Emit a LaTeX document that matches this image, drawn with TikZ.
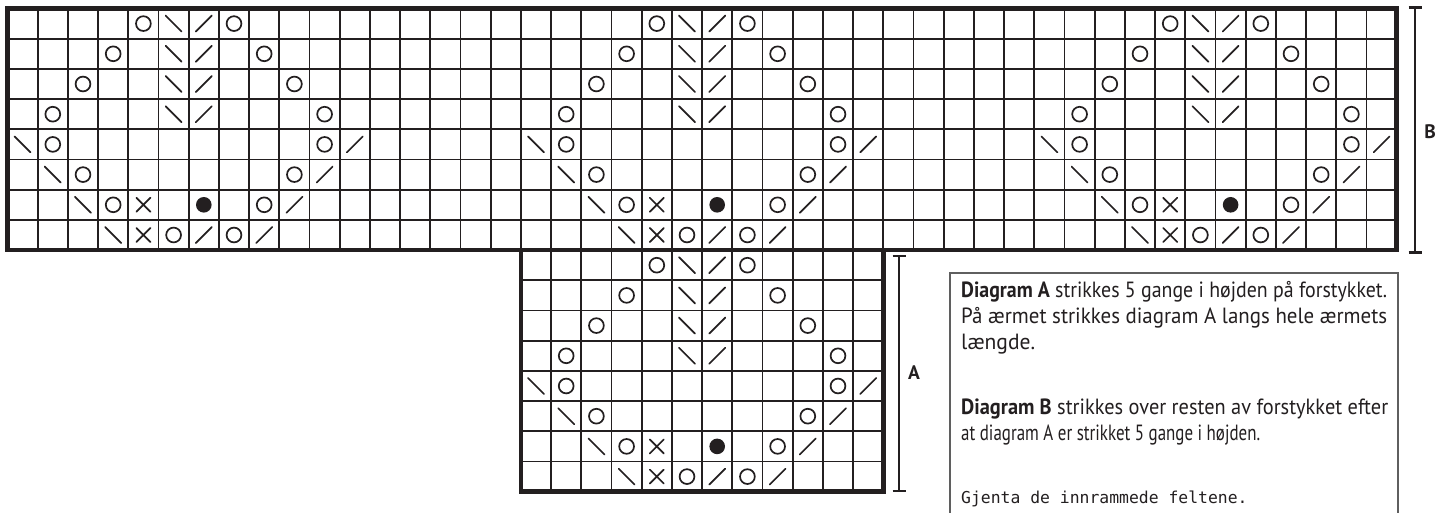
\documentclass[tikz,border=0pt]{standalone}
\usepackage{fontspec}
\usepackage{graphicx}
\newfontfamily\ptsans{PT Sans}
\newfontfamily\dvmono{DejaVu Sans Mono}
\definecolor{ink}{RGB}{35,31,32}
\definecolor{boxgray}{RGB}{95,95,95}
\newcommand\cellsz{30.2}
\newcommand\gx{7.5}
\newcommand\gy{8.5}
\newsavebox\fitbox
\newcommand\fitw[2]{\sbox\fitbox{#2}\pgfmathsetmacro\fitfac{#1/(\the\wd\fitbox)}\scalebox{\fitfac}[1]{\usebox\fitbox}}
\tikzset{
  sym/.style={draw=ink, line width=1.7pt, line cap=round},
  thinline/.style={draw=ink, line width=1.8pt},
  thickframe/.style={draw=ink, line width=4.8pt},
  ko/.pic={\draw[sym] (0,0) circle (7.4pt);},
  kl/.pic={\draw[sym] (-8pt,8pt) -- (8pt,-8pt);},
  kr/.pic={\draw[sym] (-8pt,-8pt) -- (8pt,8pt);},
  kx/.pic={\draw[sym] (-7pt,-7pt) -- (7pt,7pt) (-7pt,7pt) -- (7pt,-7pt);},
  kd/.pic={\fill[ink] (0,0) circle (7.8pt);},
  bracketline/.style={draw=ink, line width=2pt},
  tickline/.style={draw=ink, line width=2.6pt},
  txt/.style={anchor=base west, inner sep=0pt, text=ink, font=\ptsans\fontsize{22}{26}\selectfont},
  lbl/.style={inner sep=0pt, text=ink, font=\ptsans\bfseries\fontsize{19.5}{24}\selectfont},
}
\newcommand\motif[2]{%
  \foreach \c/\r/\t in {4/0/ko,5/0/kl,6/0/kr,7/0/ko,
      3/1/ko,5/1/kl,6/1/kr,8/1/ko,
      2/2/ko,5/2/kl,6/2/kr,9/2/ko,
      1/3/ko,5/3/kl,6/3/kr,10/3/ko,
      0/4/kl,1/4/ko,10/4/ko,11/4/kr,
      1/5/kl,2/5/ko,9/5/ko,10/5/kr,
      2/6/kl,3/6/ko,4/6/kx,6/6/kd,8/6/ko,9/6/kr,
      3/7/kl,4/7/kx,5/7/ko,6/7/kr,7/7/ko,8/7/kr}{%
    \edef\doit{\noexpand\pic at ({\gx+\cellsz*(#1+\c+0.5)},{\gy+\cellsz*(#2+\r+0.5)}) {\t};}\doit}%
}
\begin{document}
\begin{tikzpicture}[x=1pt,y=-1pt]
\useasboundingbox[fill=white] (0,0) rectangle (1446,513);
% chart B grid
\foreach \i in {1,...,45} \draw[thinline] ({\gx+\cellsz*\i},\gy) -- ({\gx+\cellsz*\i},{\gy+8*\cellsz});
\foreach \j in {1,...,7} \draw[thinline] (\gx,{\gy+\cellsz*\j}) -- ({\gx+46*\cellsz},{\gy+\cellsz*\j});
% chart A grid
\foreach \i in {18,...,28} \draw[thinline] ({\gx+\cellsz*\i},{\gy+8*\cellsz}) -- ({\gx+\cellsz*\i},{\gy+16*\cellsz});
\foreach \j in {9,...,15} \draw[thinline] ({\gx+17*\cellsz},{\gy+\cellsz*\j}) -- ({\gx+29*\cellsz},{\gy+\cellsz*\j});
% symbols
\motif{0}{0}
\motif{17}{0}
\motif{34}{0}
\motif{17}{8}
% frames
\draw[thickframe] (\gx,\gy) rectangle ({\gx+46*\cellsz},{\gy+8*\cellsz});
\draw[thickframe] ({\gx+17*\cellsz},{\gy+8*\cellsz}) rectangle ({\gx+29*\cellsz},{\gy+16*\cellsz});
% bracket B
\coordinate (bt) at (1415,7.5);
\coordinate (bb) at (1415,252.5);
\draw[bracketline] (bt) -- (bb);
\draw[tickline] ([xshift=-6.5pt]bt) -- ([xshift=6.5pt]bt);
\draw[tickline] ([xshift=-6.5pt]bb) -- ([xshift=6.5pt]bb);
\node[lbl] (labB) at (1430,132) {B};
% bracket A
\coordinate (at) at (899,256);
\coordinate (ab) at (899,491);
\draw[bracketline] (at) -- (ab);
\draw[tickline] ([xshift=-6.5pt]at) -- ([xshift=6.5pt]at);
\draw[tickline] ([xshift=-6.5pt]ab) -- ([xshift=6.5pt]ab);
\node[lbl] (labA) at (914,373) {A};
% text box
\draw[draw=boxgray, line width=1.3pt] (950,514) -- (950,273) -- (1398,273) -- (1398,514);
\node[txt] (t1) at (961,298) {\fitw{426}{\textbf{Diagram A} strikkes 5 gange i højden på forstykket.}};
\node[txt] (t2) at (961,323.5) {\fitw{426}{På ærmet strikkes diagram A langs hele ærmets}};
\node[txt] (t3) at (961,349) {\fitw{74}{længde.}};
\node[txt] (t4) at (961,414) {\fitw{427}{\textbf{Diagram B} strikkes over resten av forstykket efter}};
\node[txt] (t5) at (961,440) {\fitw{299}{at diagram A er strikket 5 gange i højden.}};
\node[txt, font=\dvmono\fontsize{16.4}{20}\selectfont] (t6) at (961,503) {Gjenta de innrammede feltene.};
\end{tikzpicture}
\end{document}
